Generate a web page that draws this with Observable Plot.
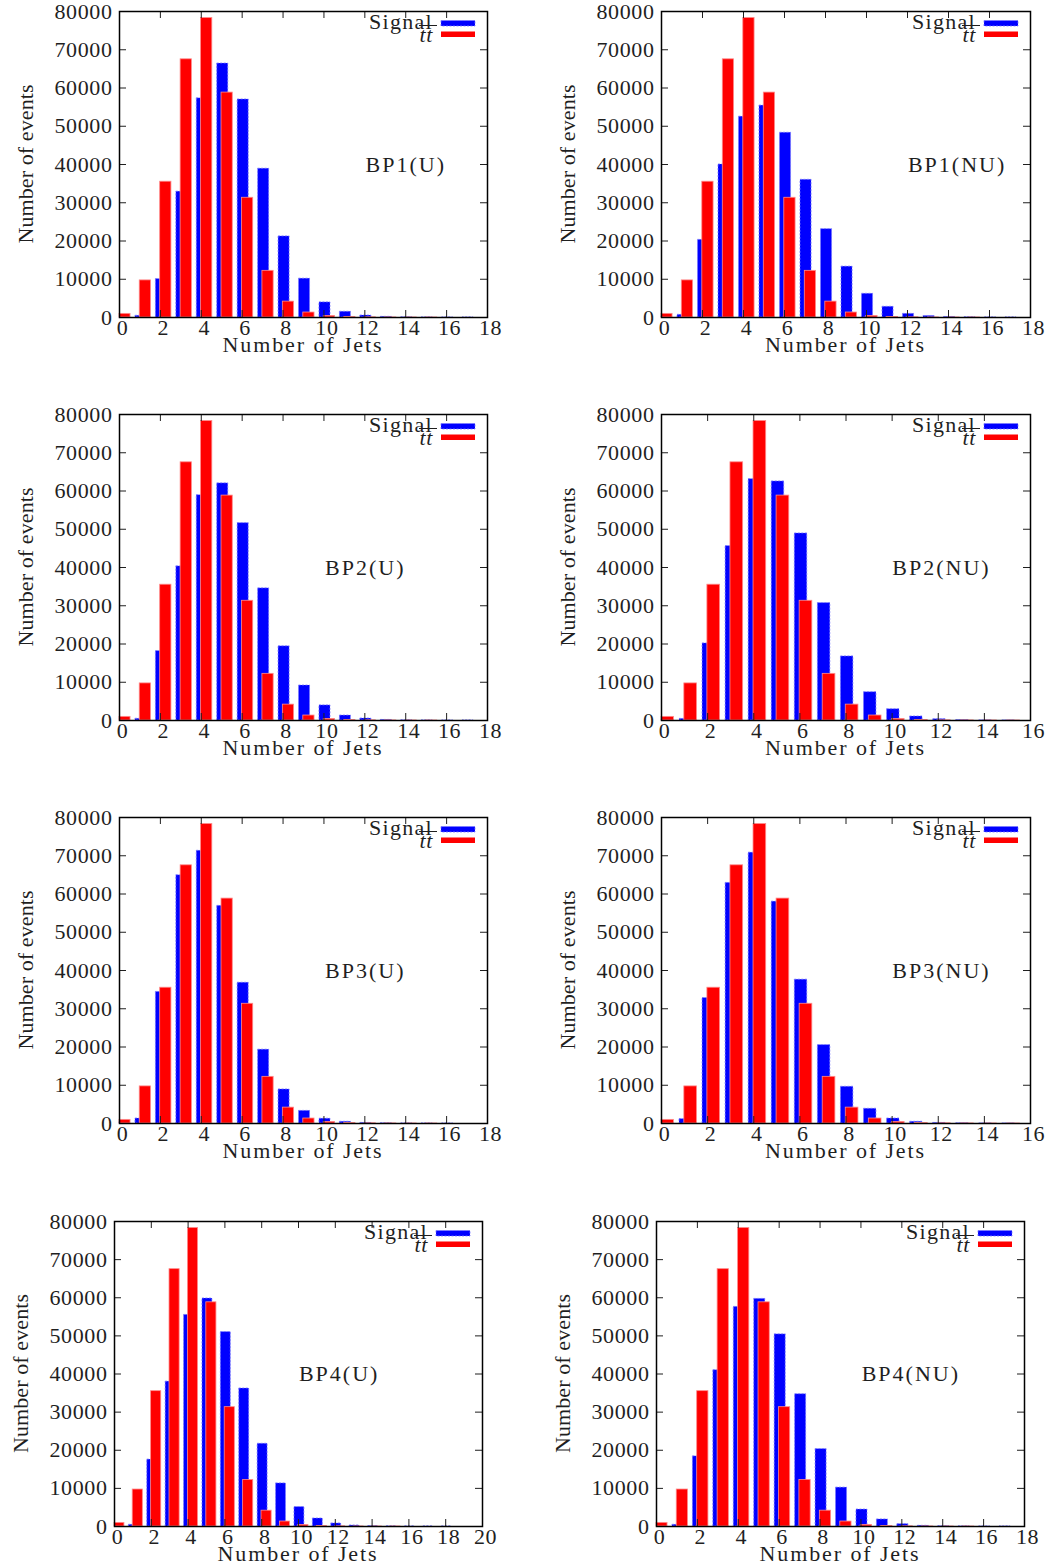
<!DOCTYPE html>
<html><head><meta charset="utf-8">
<script src="https://cdn.jsdelivr.net/npm/d3@7"></script>
<script src="https://cdn.jsdelivr.net/npm/@observablehq/plot@0.6"></script>
<style>
body{margin:0;background:#fff;}
#page{position:relative;width:1048px;height:1568px;background:#fff;overflow:hidden;}
#page svg{position:absolute;overflow:visible;}
</style></head><body><div id="page"></div>
<script>
// Background (t tbar) jet multiplicity, same in every panel
const ttbar = [950, 9700, 35500, 67500, 78300, 58800, 31300, 12200, 4150, 1300, 420, 130, 40, 12, 4, 1, 0, 0, 0, 0];
// Signal jet multiplicities
const sigBP1U  = [150, 450, 10050, 32900, 57300, 66400, 57000, 38900, 21200, 10150, 3950, 1500, 520, 170, 50, 15, 5, 1];
const sigBP1NU = [250, 700, 20300, 40000, 52500, 55400, 48300, 36000, 23100, 13300, 6200, 2800, 950, 400, 140, 50, 15, 5];
const sigBP2U  = [120, 450, 18150, 40300, 58900, 62000, 51600, 34550, 19400, 9150, 3950, 1300, 520, 150, 50, 15, 5, 1];
const sigBP2NU = [120, 420, 20150, 45600, 63100, 62500, 48900, 30700, 16750, 7400, 2950, 1050, 350, 100, 30, 10];
const sigBP3U  = [400, 1300, 34400, 64900, 71300, 56900, 36800, 19300, 8900, 3300, 1250, 450, 150, 50, 15, 5, 1, 0];
const sigBP3NU = [350, 1150, 32800, 62900, 70800, 58000, 37600, 20500, 9600, 3850, 1300, 450, 150, 50, 15, 5];
const sigBP4U  = [120, 450, 17550, 38000, 55500, 59800, 51000, 36200, 21700, 11300, 5100, 2100, 800, 270, 90, 30, 10, 3, 1, 0];
const sigBP4NU = [120, 450, 18400, 41000, 57600, 59700, 50400, 34700, 20300, 10200, 4450, 1850, 620, 180, 60, 20, 6, 2];
const panelNames = ["BP1(U)", "BP1(NU)", "BP2(U)", "BP2(NU)", "BP3(U)", "BP3(NU)", "BP4(U)", "BP4(NU)"];
const signals = [sigBP1U, sigBP1NU, sigBP2U, sigBP2NU, sigBP3U, sigBP3NU, sigBP4U, sigBP4NU];
const xMax = [18, 18, 18, 16, 18, 16, 20, 18];
const yTicks = [0, 10000, 20000, 30000, 40000, 50000, 60000, 70000, 80000];
const xLabel = "Number of Jets";
const yLabel = "Number of events";

// layout (pixels)
const labelX = [14, 14.42, 12.02, 12.14, 12.02, 12.14, 12.21, 12.44];
const geo = [
  {left:0,   top:0,    ml:119, mr:37, mt:11, mb:75},
  {left:524, top:0,    ml:137, mr:18, mt:11, mb:75},
  {left:0,   top:392,  ml:119, mr:37, mt:22, mb:64},
  {left:524, top:392,  ml:137, mr:18, mt:22, mb:64},
  {left:0,   top:784,  ml:119, mr:37, mt:33, mb:53},
  {left:524, top:784,  ml:137, mr:18, mt:33, mb:53},
  {left:0,   top:1176, ml:114, mr:42, mt:45, mb:42},
  {left:524, top:1176, ml:132, mr:24, mt:45, mb:42}
];
const FONT = "'Liberation Serif', 'DejaVu Serif', serif";
const FS = 22;
const SVGW = 524, SVGH = 392;
const INK = "#1f1f1f";

const page = document.getElementById("page");
panelNames.forEach((name, i) => {
  const g = geo[i];
  const W = SVGW - g.ml - g.mr, H = SVGH - g.mt - g.mb;
  const xm = xMax[i];
  const xTicks = d3.range(0, xm + 1, 2);
  const sig = signals[i].map((v, n) => ({n, v})).filter(d => d.n < xm);
  const bkg = ttbar.map((v, n) => ({n, v})).filter(d => d.n < xm);
  const plot = Plot.plot({
    width: SVGW, height: SVGH,
    marginLeft: g.ml, marginRight: g.mr, marginTop: g.mt, marginBottom: g.mb,
    style: `font-family:${FONT};font-size:${FS}px;color:${INK};background:transparent;letter-spacing:0.6px;`,
    x: {domain: [0, xm], clamp: true},
    y: {domain: [0, 80000]},
    marks: [
      Plot.rectY(sig, {x1: d => d.n - 0.22, x2: d => d.n + 0.32, y: "v", fill: "#0000ff", stroke: "#7a7aff", strokeWidth: 0.8, strokeDasharray: "2,1.5"}),
      Plot.rectY(bkg, {x1: d => d.n - 0.01, x2: d => d.n + 0.54, y: "v", fill: "#ff0000", stroke: "#ff8a8a", strokeWidth: 0.8}),
      Plot.tickX(xTicks, {x: d => d, insetTop: H - 7, stroke: INK}),
      Plot.tickX(xTicks, {x: d => d, insetBottom: H - 7, stroke: INK}),
      Plot.tickY(yTicks, {y: d => d, insetRight: W - 7, stroke: INK}),
      Plot.tickY(yTicks, {y: d => d, insetLeft: W - 7, stroke: INK}),
      Plot.axisX(xTicks, {anchor: "bottom", tickSize: 0, tickPadding: 2, dx: 3, label: null, fontSize: FS, tickFormat: d => String(d)}),
      Plot.axisY(yTicks, {anchor: "left", tickSize: 0, tickPadding: 7, label: null, fontSize: FS, tickFormat: d => String(d)}),
      Plot.text([name], {x: () => labelX[i], y: () => 40000, text: d => d, fontSize: FS, textAnchor: "middle", fill: INK, style: "letter-spacing:2px"}),
      Plot.frame({stroke: "#000", strokeWidth: 1.5})
    ]
  });
  plot.style.left = g.left + "px";
  plot.style.top = g.top + "px";
  // letter spacing for the panel label
  d3.select(plot).selectAll("text").filter(function() { return this.textContent === name; }).style("letter-spacing", "2px");
  const svg = d3.select(plot);
  const fl = g.ml, fr = SVGW - g.mr, ft = g.mt, fb = SVGH - g.mb;
  const lab = svg.append("g").attr("font-family", FONT).attr("font-size", FS).attr("fill", INK);
  lab.append("text").attr("x", (fl + fr) / 2).attr("y", fb + 35).attr("text-anchor", "middle").style("letter-spacing", "1.9px").text(xLabel);
  lab.append("text").attr("transform", `translate(${fl - 86},${(ft + fb) / 2}) rotate(-90)`).attr("text-anchor", "middle").style("letter-spacing", "0.1px").text(yLabel);
  // legend
  lab.append("text").attr("x", fr - 54).attr("y", ft + 18).attr("text-anchor", "end").style("letter-spacing", "1.3px").text("Signal");
  lab.append("text").attr("x", fr - 54).attr("y", ft + 31).attr("text-anchor", "end").attr("font-style", "italic").text("tt");
  lab.append("line").attr("x1", fr - 68).attr("x2", fr - 50).attr("y1", ft + 14.5).attr("y2", ft + 14.5).attr("stroke", INK).attr("stroke-width", 1);
  lab.append("rect").attr("x", fr - 46).attr("y", ft + 9.5).attr("width", 34).attr("height", 5.5).attr("fill", "#0000ff").attr("stroke", "#7a7aff").attr("stroke-width", 0.8).attr("stroke-dasharray", "2,1.5");
  lab.append("rect").attr("x", fr - 46).attr("y", ft + 20.5).attr("width", 34).attr("height", 5.5).attr("fill", "#ff0000");
  page.appendChild(plot);
});
</script>
</body></html>
